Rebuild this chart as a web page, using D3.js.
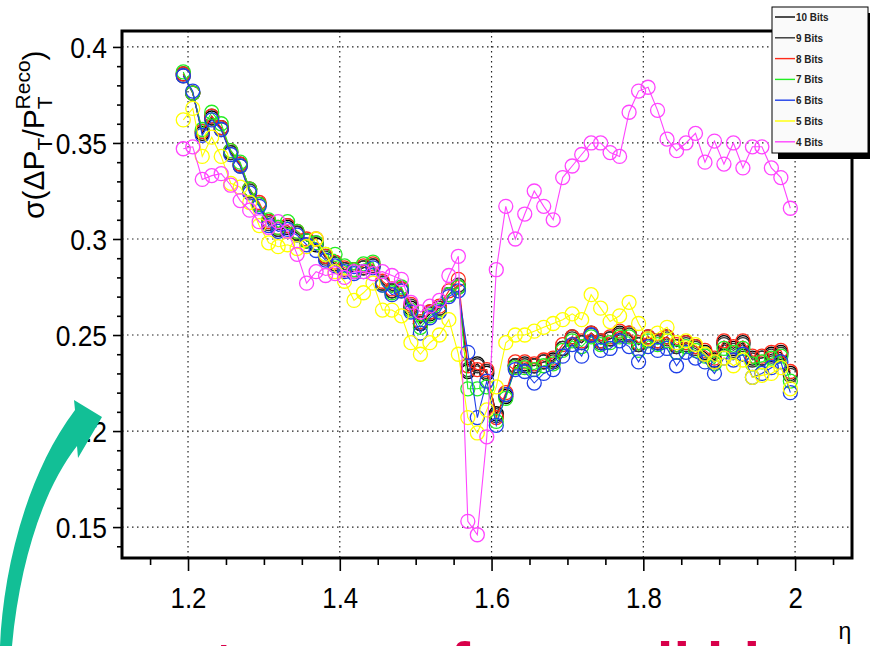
<!DOCTYPE html>
<html>
<head>
<meta charset="utf-8">
<script src="https://cdn.jsdelivr.net/npm/d3@7"></script>
<style>
  html, body { margin: 0; padding: 0; background: #fff; }
  svg { display: block; font-family: "Liberation Sans", Arial, sans-serif; }
</style>
</head>
<body>
<div id="chart"></div>
<script>
// bin centres in eta (bin width 0.0125)
const eta = [1.19375, 1.20625, 1.21875, 1.23125, 1.24375, 1.25625, 1.26875, 1.28125, 1.29375, 1.30625,
  1.31875, 1.33125, 1.34375, 1.35625, 1.36875, 1.38125, 1.39375, 1.40625, 1.41875, 1.43125,
  1.44375, 1.45625, 1.46875, 1.48125, 1.49375, 1.50625, 1.51875, 1.53125, 1.54375, 1.55625,
  1.56875, 1.58125, 1.59375, 1.60625, 1.61875, 1.63125, 1.64375, 1.65625, 1.66875, 1.68125,
  1.69375, 1.70625, 1.71875, 1.73125, 1.74375, 1.75625, 1.76875, 1.78125, 1.79375, 1.80625,
  1.81875, 1.83125, 1.84375, 1.85625, 1.86875, 1.88125, 1.89375, 1.90625, 1.91875, 1.93125,
  1.94375, 1.95625, 1.96875, 1.98125, 1.99375];

const bits10 = [0.386,0.376,0.355,0.363,0.358,0.345,0.339,0.326,0.318,0.309,
  0.305,0.306,0.303,0.299,0.297,0.291,0.287,0.284,0.283,0.285,
  0.286,0.277,0.273,0.274,0.264,0.256,0.261,0.264,0.271,0.275,
  0.231,0.235,0.230,0.209,0.218,0.234,0.235,0.234,0.236,0.237,
  0.243,0.249,0.246,0.251,0.247,0.248,0.251,0.251,0.245,0.249,
  0.247,0.249,0.244,0.246,0.244,0.241,0.237,0.246,0.243,0.246,
  0.238,0.238,0.240,0.241,0.230];
const bits9 = [0.385,0.376,0.356,0.364,0.357,0.345,0.338,0.325,0.318,0.308,
  0.305,0.307,0.303,0.299,0.298,0.290,0.287,0.284,0.284,0.285,
  0.286,0.277,0.273,0.273,0.265,0.256,0.262,0.264,0.271,0.276,
  0.232,0.234,0.231,0.208,0.219,0.234,0.234,0.234,0.236,0.236,
  0.243,0.248,0.246,0.250,0.246,0.248,0.250,0.250,0.245,0.248,
  0.246,0.248,0.244,0.245,0.243,0.240,0.236,0.245,0.242,0.245,
  0.237,0.238,0.239,0.240,0.229];
const bits8 = [0.386,0.376,0.356,0.364,0.358,0.346,0.339,0.326,0.319,0.309,
  0.306,0.307,0.304,0.300,0.300,0.291,0.288,0.285,0.284,0.286,
  0.287,0.278,0.274,0.274,0.266,0.257,0.262,0.265,0.273,0.279,
  0.234,0.232,0.232,0.207,0.220,0.236,0.236,0.235,0.237,0.238,
  0.245,0.249,0.247,0.251,0.247,0.249,0.252,0.251,0.246,0.249,
  0.247,0.249,0.245,0.246,0.244,0.242,0.238,0.247,0.244,0.247,
  0.239,0.239,0.241,0.242,0.231];
const bits7 = [0.387,0.376,0.357,0.366,0.360,0.346,0.340,0.326,0.318,0.310,
  0.306,0.309,0.304,0.299,0.298,0.292,0.292,0.286,0.284,0.287,
  0.288,0.276,0.272,0.275,0.263,0.254,0.260,0.263,0.271,0.275,
  0.222,0.222,0.223,0.205,0.217,0.233,0.233,0.232,0.234,0.235,
  0.242,0.247,0.244,0.249,0.245,0.246,0.249,0.249,0.242,0.247,
  0.245,0.247,0.241,0.244,0.242,0.239,0.235,0.243,0.241,0.243,
  0.235,0.236,0.238,0.239,0.226];
const bits6 = [0.385,0.377,0.354,0.362,0.357,0.344,0.338,0.324,0.317,0.307,
  0.304,0.305,0.302,0.297,0.294,0.289,0.286,0.283,0.282,0.283,
  0.285,0.276,0.271,0.273,0.262,0.251,0.259,0.262,0.270,0.273,
  0.241,0.207,0.226,0.203,0.219,0.232,0.231,0.225,0.230,0.232,
  0.239,0.245,0.239,0.250,0.242,0.243,0.247,0.244,0.236,0.244,
  0.242,0.243,0.234,0.241,0.238,0.236,0.230,0.238,0.237,0.240,
  0.228,0.230,0.233,0.236,0.220];
const bits5 = [0.362,0.368,0.343,0.353,0.343,0.329,0.327,0.319,0.307,0.298,
  0.296,0.297,0.295,0.296,0.300,0.292,0.283,0.278,0.268,0.272,
  0.277,0.263,0.263,0.260,0.246,0.240,0.246,0.250,0.258,0.240,
  0.207,0.199,0.211,0.223,0.246,0.250,0.250,0.252,0.254,0.256,
  0.258,0.261,0.258,0.271,0.264,0.257,0.260,0.267,0.256,0.248,
  0.251,0.254,0.246,0.247,0.245,0.240,0.236,0.238,0.234,0.237,
  0.228,0.229,0.230,0.233,0.222];
const bits4 = [0.347,0.348,0.331,0.333,0.334,0.328,0.320,0.315,0.309,0.306,
  0.309,0.304,0.292,0.277,0.283,0.281,0.282,0.280,0.283,0.283,
  0.282,0.283,0.281,0.279,0.267,0.262,0.265,0.268,0.281,0.291,
  0.153,0.146,0.197,0.284,0.317,0.300,0.313,0.325,0.317,0.310,
  0.332,0.338,0.344,0.350,0.350,0.345,0.343,0.366,0.377,0.379,
  0.367,0.352,0.346,0.350,0.355,0.340,0.351,0.339,0.350,0.337,
  0.348,0.348,0.337,0.332,0.316];

const seriesNames = ["10 Bits", "9 Bits", "8 Bits", "7 Bits", "6 Bits", "5 Bits", "4 Bits"];
const seriesValues = [bits10, bits9, bits8, bits7, bits6, bits5, bits4];
const seriesColors = ["#000000", "#333333", "#ff2a1a", "#22ee22", "#1f3fe8", "#ffff00", "#ff44ff"];

const xTicks = [1.2, 1.4, 1.6, 1.8, 2.0];
const xTickLabels = ["1.2", "1.4", "1.6", "1.8", "2"];
const yTicks = [0.15, 0.2, 0.25, 0.3, 0.35, 0.4];
const yTickLabels = ["0.15", "0.2", "0.25", "0.3", "0.35", "0.4"];

const W = 870, H = 646;
const frame = {left: 122, right: 852, top: 31, bottom: 558};

const svg = d3.select("#chart").append("svg")
  .attr("width", W).attr("height", H)
  .attr("xmlns", "http://www.w3.org/2000/svg");

svg.append("rect").attr("width", W).attr("height", H).attr("fill", "#fff");

const x = d3.scaleLinear().domain([1.113, 2.075]).range([frame.left, frame.right]);
const y = d3.scaleLinear().domain([0.1339, 0.4083]).range([frame.bottom, frame.top]);

// dotted grid
const grid = svg.append("g").attr("stroke", "#222").attr("stroke-width", 1.2)
  .attr("stroke-dasharray", "1.5,3.5");
grid.selectAll(".gx").data(xTicks).join("line")
  .attr("x1", d => x(d)).attr("x2", d => x(d))
  .attr("y1", frame.top).attr("y2", frame.bottom);
grid.selectAll(".gy").data(yTicks).join("line")
  .attr("x1", frame.left).attr("x2", frame.right)
  .attr("y1", d => y(d)).attr("y2", d => y(d));

// axes: major + minor ticks
const xMinor = d3.range(1.15, 2.07, 0.05).filter(v => Math.abs(v * 5 - Math.round(v * 5)) > 1e-6);
const yMinor = d3.range(0.14, 0.405, 0.01).filter(v => Math.abs(v * 20 - Math.round(v * 20)) > 1e-6);

const xAxis = svg.append("g").attr("transform", `translate(0,${frame.bottom})`)
  .call(d3.axisBottom(x).tickValues(xTicks).tickSize(13).tickSizeOuter(0)
    .tickPadding(16).tickFormat((d, i) => xTickLabels[i]));
svg.append("g").attr("transform", `translate(0,${frame.bottom})`)
  .call(d3.axisBottom(x).tickValues(xMinor).tickSize(7).tickSizeOuter(0).tickFormat(""));

const yAxis = svg.append("g").attr("transform", `translate(${frame.left},0)`)
  .call(d3.axisLeft(y).tickValues(yTicks).tickSize(9).tickSizeOuter(0)
    .tickPadding(6).tickFormat((d, i) => yTickLabels[i]));
svg.append("g").attr("transform", `translate(${frame.left},0)`)
  .call(d3.axisLeft(y).tickValues(yMinor).tickSize(5).tickSizeOuter(0).tickFormat(""));

svg.selectAll(".domain").remove();
svg.selectAll(".tick line").attr("stroke", "#000").attr("stroke-width", 1.6);

xAxis.selectAll("text")
  .attr("font-size", 30).attr("fill", "#000")
  .attr("font-family", "Liberation Sans, Arial, sans-serif")
  .attr("dy", "0.71em")
  .attr("text-anchor", "middle")
  .attr("transform", "scale(0.86,1)")
  .attr("x", 0);
yAxis.selectAll("text")
  .attr("font-size", 30).attr("fill", "#000")
  .attr("font-family", "Liberation Sans, Arial, sans-serif")
  .attr("dy", "0.35em")
  .attr("x", -15 / 0.88)
  .attr("transform", "scale(0.88,1)");

// data
const line = d3.line().x((d, i) => x(eta[i])).y(d => y(d));
const plot = svg.append("g");
seriesValues.forEach((vals, k) => {
  const g = plot.append("g");
  g.append("path").attr("d", line(vals))
    .attr("fill", "none").attr("stroke", seriesColors[k]).attr("stroke-width", 1.1);
  g.selectAll("circle").data(vals).join("circle")
    .attr("cx", (d, i) => x(eta[i])).attr("cy", d => y(d)).attr("r", 7)
    .attr("fill", "none").attr("stroke", seriesColors[k]).attr("stroke-width", 1.3);
});

// frame
svg.append("rect")
  .attr("x", frame.left).attr("y", frame.top)
  .attr("width", frame.right - frame.left).attr("height", frame.bottom - frame.top)
  .attr("fill", "none").attr("stroke", "#000").attr("stroke-width", 3);

// y axis title
const yTitle = svg.append("text")
  .attr("transform", "translate(44,219) rotate(-90)")
  .attr("font-size", 30).attr("fill", "#000");
yTitle.append("tspan").text("σ(ΔP");
yTitle.append("tspan").attr("font-size", 21).attr("dy", 8).text("T");
yTitle.append("tspan").attr("dy", -8).text("/P");
yTitle.append("tspan").attr("font-size", 21).attr("dy", 8).text("T");
yTitle.append("tspan").attr("font-size", 21).attr("dx", -13).attr("dy", -22).text("Reco");
yTitle.append("tspan").attr("dy", 14).text(")");

// x axis title
svg.append("text").attr("x", 845).attr("y", 639)
  .attr("font-size", 23).attr("text-anchor", "middle").text("η");

// legend
const lg = svg.append("g");
lg.append("rect").attr("x", 778).attr("y", 13).attr("width", 100).attr("height", 146).attr("fill", "#000");
lg.append("rect").attr("x", 772).attr("y", 7).attr("width", 96).attr("height", 146)
  .attr("fill", "#fafafa").attr("stroke", "#000").attr("stroke-width", 1);
const rows = lg.selectAll(".row").data(seriesNames).join("g")
  .attr("transform", (d, i) => `translate(0,${17 + i * 20.8})`);
rows.append("line").attr("x1", 775).attr("x2", 795).attr("y1", 0).attr("y2", 0)
  .attr("stroke", (d, i) => seriesColors[i]).attr("stroke-width", 1.4);
rows.append("text").attr("x", 796 / 0.9).attr("y", 4)
  .attr("transform", "scale(0.9,1)")
  .attr("font-size", 11).attr("font-weight", "bold").attr("fill", "#222")
  .text(d => d);

// green arrow pointing at the 0.2 level
svg.append("path")
  .attr("d", "M0,646 C3,575 24,478 75,410 L74,400 L102,417 L78,458 L77,446 C44,488 20,560 12,646 Z")
  .attr("fill", "#12bf96");

// slide caption cut off at the bottom edge
svg.append("text").attr("x", 110).attr("y", 684)
  .attr("font-size", 60).attr("font-weight", "bold").attr("fill", "#d8004a")
  .text("cost more of a small bin");
</script>
</body>
</html>
